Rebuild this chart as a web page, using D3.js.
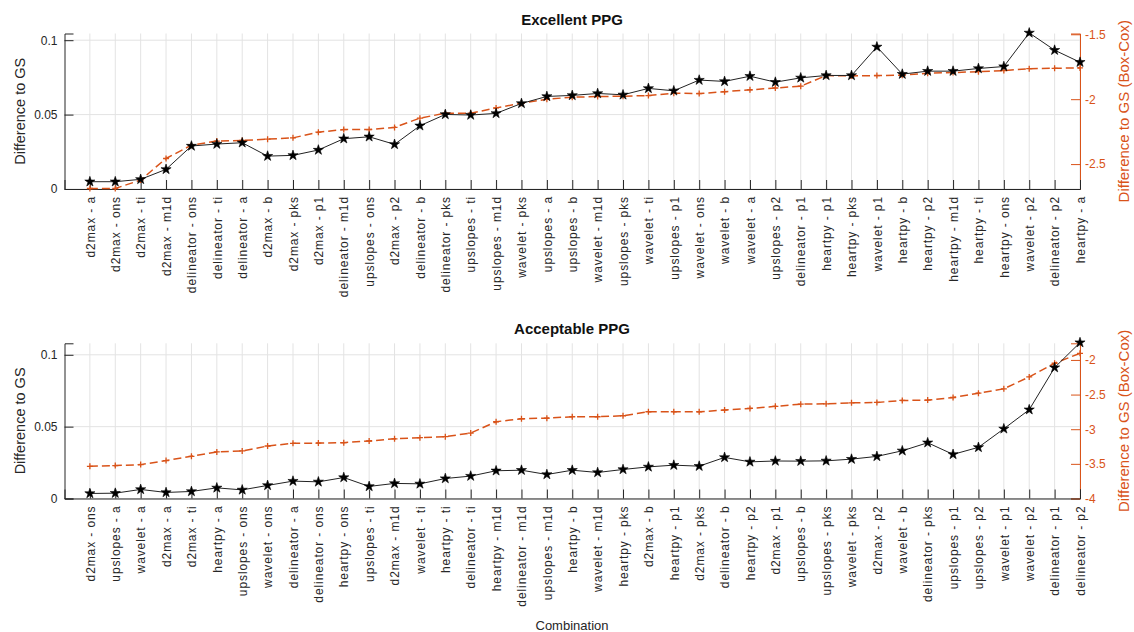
<!DOCTYPE html>
<html>
<head>
<meta charset="utf-8">
<script src="https://cdn.jsdelivr.net/npm/d3@7"></script>
<style>
  body { margin: 0; background: #fff; }
  text { font-family: "Liberation Sans", Arial, sans-serif; }
</style>
</head>
<body>
<svg width="1134" height="632"></svg>
<script>
var topLabels = ['d2max - a', 'd2max - ons', 'd2max - ti', 'd2max - m1d', 'delineator - ons', 'delineator - ti', 'delineator - a', 'd2max - b', 'd2max - pks', 'd2max - p1',
  'delineator - m1d', 'upslopes - ons', 'd2max - p2', 'delineator - b', 'delineator - pks', 'upslopes - ti', 'upslopes - m1d', 'wavelet - pks', 'upslopes - a', 'upslopes - b',
  'wavelet - m1d', 'upslopes - pks', 'wavelet - ti', 'upslopes - p1', 'wavelet - ons', 'wavelet - b', 'wavelet - a', 'upslopes - p2', 'delineator - p1', 'heartpy - p1',
  'heartpy - pks', 'wavelet - p1', 'heartpy - b', 'heartpy - p2', 'heartpy - m1d', 'heartpy - ti', 'heartpy - ons', 'wavelet - p2', 'delineator - p2', 'heartpy - a'];
var topDiff = [0.0049, 0.0049, 0.0065, 0.0132, 0.0289, 0.0302, 0.0311, 0.0221, 0.0226, 0.0262,
  0.0338, 0.0351, 0.0300, 0.0425, 0.0501, 0.0497, 0.0508, 0.0575, 0.0622, 0.0629,
  0.0642, 0.0633, 0.0676, 0.0660, 0.0732, 0.0723, 0.0758, 0.0718, 0.0747, 0.0763,
  0.0763, 0.0955, 0.0772, 0.0792, 0.0792, 0.0810, 0.0823, 0.1049, 0.0933, 0.0852];
var topBoxCox = [-2.688, -2.688, -2.623, -2.457, -2.354, -2.323, -2.318, -2.308, -2.298, -2.254,
  -2.234, -2.234, -2.218, -2.146, -2.108, -2.108, -2.067, -2.031, -2.000, -1.985,
  -1.980, -1.977, -1.972, -1.954, -1.957, -1.942, -1.928, -1.914, -1.900, -1.818,
  -1.821, -1.818, -1.815, -1.800, -1.795, -1.788, -1.780, -1.765, -1.762, -1.759];

var bottomLabels = ['d2max - ons', 'upslopes - a', 'wavelet - a', 'd2max - a', 'd2max - ti', 'heartpy - a', 'upslopes - ons', 'wavelet - ons', 'delineator - a', 'delineator - ons',
  'heartpy - ons', 'upslopes - ti', 'd2max - m1d', 'wavelet - ti', 'heartpy - ti', 'delineator - ti', 'heartpy - m1d', 'delineator - m1d', 'upslopes - m1d', 'heartpy - b',
  'wavelet - m1d', 'heartpy - pks', 'd2max - b', 'heartpy - p1', 'd2max - pks', 'delineator - b', 'heartpy - p2', 'd2max - p1', 'upslopes - b', 'upslopes - pks',
  'wavelet - pks', 'd2max - p2', 'wavelet - b', 'delineator - pks', 'upslopes - p1', 'upslopes - p2', 'wavelet - p1', 'wavelet - p2', 'delineator - p1', 'delineator - p2'];
var bottomDiff = [0.0035, 0.0037, 0.0063, 0.0042, 0.0049, 0.0074, 0.0060, 0.0091, 0.0121, 0.0116,
  0.0146, 0.0084, 0.0105, 0.0102, 0.0139, 0.0156, 0.0193, 0.0197, 0.0167, 0.0197,
  0.0181, 0.0202, 0.0220, 0.0232, 0.0225, 0.0286, 0.0255, 0.0261, 0.0260, 0.0262,
  0.0274, 0.0293, 0.0332, 0.0388, 0.0307, 0.0356, 0.0485, 0.0618, 0.0911, 0.1085];
var bottomBoxCox = [-3.535, -3.525, -3.511, -3.453, -3.391, -3.328, -3.314, -3.242, -3.204, -3.200,
  -3.194, -3.170, -3.138, -3.122, -3.108, -3.055, -2.892, -2.849, -2.840, -2.820,
  -2.820, -2.806, -2.748, -2.748, -2.748, -2.724, -2.700, -2.670, -2.638, -2.633,
  -2.619, -2.614, -2.585, -2.580, -2.542, -2.480, -2.417, -2.245, -2.048, -1.904];

var leftTicks = [0, 0.05, 0.1];
var topRightTicks = [-2.5, -2, -1.5];
var bottomRightTicks = [-4, -3.5, -3, -2.5, -2];

var axisColor = '#262626';
var orange = '#D95319';
var gridColor = '#e3e3e3';
var x0 = 64.5, x1 = 1080;

var svg = d3.select('svg');

function drawPanel(title, labels, diff, boxcox, leftMax, rightDomain, rightTicks, top, bottom) {
  var g = svg.append('g');
  var n = labels.length;

  var xScale = d3.scaleLinear().domain([0, n]).range([x0, x1]);
  var yLeft = d3.scaleLinear().domain([0, leftMax]).range([bottom, top]);
  var yRight = d3.scaleLinear().domain(rightDomain).range([bottom, top]);
  var idx = d3.range(1, n + 1);

  // grid
  g.append('g').selectAll('line').data(idx).enter().append('line')
    .attr('x1', function(d) { return xScale(d); })
    .attr('x2', function(d) { return xScale(d); })
    .attr('y1', top).attr('y2', bottom)
    .attr('stroke', gridColor).attr('stroke-width', 1);
  g.append('g').selectAll('line').data(leftTicks).enter().append('line')
    .attr('x1', x0).attr('x2', x1)
    .attr('y1', function(d) { return yLeft(d); })
    .attr('y2', function(d) { return yLeft(d); })
    .attr('stroke', gridColor).attr('stroke-width', 1);

  // left axis
  var axL = g.append('g').attr('transform', 'translate(' + x0 + ',0)')
    .call(d3.axisLeft(yLeft).tickValues(leftTicks).tickSize(-9).tickPadding(7)
      .tickFormat(function(d) { return String(d); }));
  axL.select('.domain').attr('stroke', axisColor);
  axL.selectAll('line').attr('stroke', axisColor);
  axL.selectAll('text').attr('fill', axisColor).attr('font-size', '12px')
    .style('font-family', '"Liberation Sans", Arial, sans-serif');

  // right axis
  var axR = g.append('g').attr('transform', 'translate(' + x1 + ',0)')
    .call(d3.axisRight(yRight).tickValues(rightTicks).tickSize(-9).tickPadding(5)
      .tickFormat(function(d) { return String(d); }));
  axR.select('.domain').attr('stroke', orange);
  axR.selectAll('line').attr('stroke', orange);
  axR.selectAll('text').attr('fill', orange).attr('font-size', '12px')
    .style('font-family', '"Liberation Sans", Arial, sans-serif');

  // bottom axis, rotated labels
  var axB = g.append('g').attr('transform', 'translate(0,' + bottom + ')')
    .call(d3.axisBottom(xScale).tickValues(idx).tickSize(-9).tickPadding(7)
      .tickFormat(function(d) { return labels[d - 1]; }));
  axB.select('.domain').attr('stroke', axisColor);
  axB.selectAll('line').attr('stroke', axisColor);
  axB.selectAll('text')
    .attr('fill', axisColor).attr('font-size', '12px')
    .style('font-family', '"Liberation Sans", Arial, sans-serif')
    .style('letter-spacing', '0.9px')
    .attr('text-anchor', 'end')
    .attr('transform', 'rotate(-90)')
    .attr('x', -7).attr('y', 0).attr('dy', '0.35em');

  // orange dashed series
  var lineR = d3.line()
    .x(function(d, i) { return xScale(i + 1); })
    .y(function(d) { return yRight(d); });
  g.append('path').datum(boxcox)
    .attr('d', lineR)
    .attr('fill', 'none').attr('stroke', orange)
    .attr('stroke-width', 1.5).attr('stroke-dasharray', '8,4');
  g.append('g').selectAll('path').data(boxcox).enter().append('path')
    .attr('transform', function(d, i) { return 'translate(' + xScale(i + 1) + ',' + yRight(d) + ')'; })
    .attr('d', 'M-3,0H3M0,-3V3')
    .attr('stroke', orange).attr('stroke-width', 1.3).attr('fill', 'none');

  // black series
  var lineL = d3.line()
    .x(function(d, i) { return xScale(i + 1); })
    .y(function(d) { return yLeft(d); });
  g.append('path').datum(diff)
    .attr('d', lineL)
    .attr('fill', 'none').attr('stroke', '#222').attr('stroke-width', 1);
  g.append('g').selectAll('path').data(diff).enter().append('path')
    .attr('transform', function(d, i) { return 'translate(' + xScale(i + 1) + ',' + yLeft(d) + ')'; })
    .attr('d', d3.symbol(d3.symbolStar).size(32))
    .attr('fill', '#000').attr('stroke', '#000').attr('stroke-width', 0.6);

  // title and axis labels
  g.append('text')
    .attr('x', 572).attr('y', top - 9)
    .attr('text-anchor', 'middle')
    .attr('font-size', '15px').attr('font-weight', 'bold')
    .attr('fill', '#111')
    .text(title);

  var mid = (top + bottom) / 2;
  g.append('text')
    .attr('transform', 'translate(25,' + mid + ') rotate(-90)')
    .attr('text-anchor', 'middle')
    .attr('font-size', '14.5px')
    .attr('fill', axisColor)
    .text('Difference to GS');
  g.append('text')
    .attr('transform', 'translate(1129,' + mid + ') rotate(-90)')
    .attr('text-anchor', 'middle')
    .attr('font-size', '15px')
    .attr('fill', orange)
    .text('Difference to GS (Box-Cox)');
}

drawPanel('Excellent PPG', topLabels, topDiff, topBoxCox, 0.1045, [-2.692, -1.494], topRightTicks, 33.5, 189);
drawPanel('Acceptable PPG', bottomLabels, bottomDiff, bottomBoxCox, 0.108, [-4, -1.76], bottomRightTicks, 343.3, 498.5);

svg.append('text')
  .attr('x', 572).attr('y', 630)
  .attr('text-anchor', 'middle')
  .attr('font-size', '13px')
  .attr('fill', axisColor)
  .text('Combination');
</script>
</body>
</html>
